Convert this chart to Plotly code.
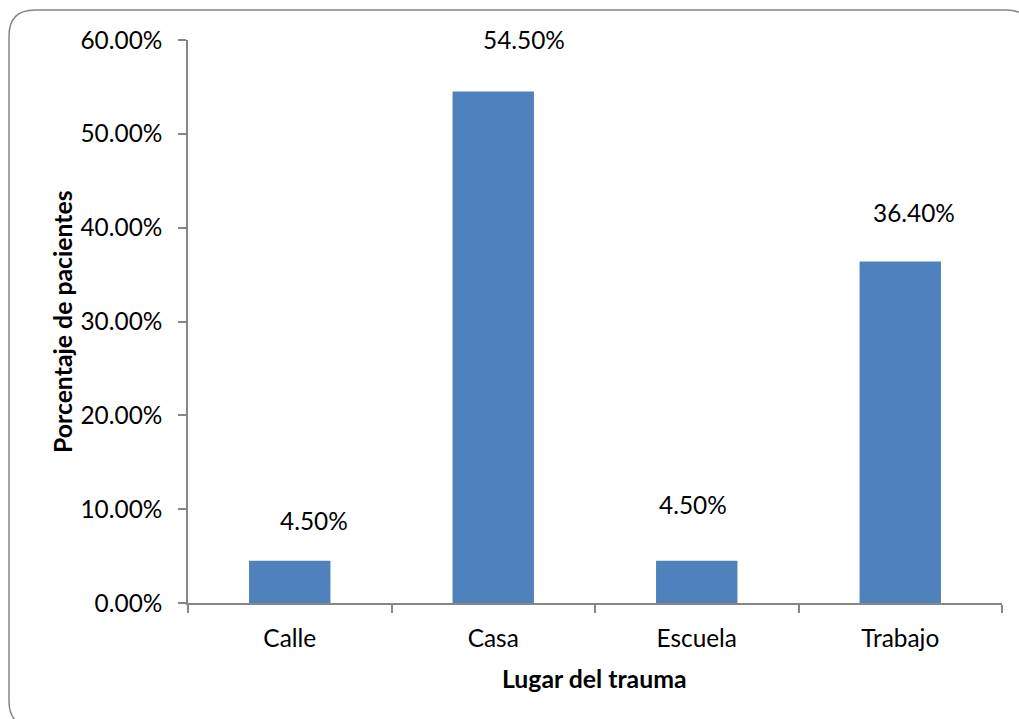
import plotly.graph_objects as go

categories = ["Calle", "Casa", "Escuela", "Trabajo"]
values = [0.045, 0.545, 0.045, 0.364]
label_texts = ["4.50%", "54.50%", "4.50%", "36.40%"]
# manual label offsets (pixels) as placed in the original chart
label_dx = [24, 31, -4, 14]
label_dy = [40, 52, 56, 49]

W, H = 1019, 719
L, R, T, B = 188, 17, 40, 116
PW, PH = W - L - R, H - T - B

def px(x):
    return (x - L) / PW

def py(y):
    return (H - B - y) / PH

FONT = "Lato"
GRAY = "#868686"
FS = 24.4

fig = go.Figure()
fig.add_trace(go.Bar(
    x=categories, y=values, marker=dict(color="#4F81BD", line=dict(width=0)),
    width=0.4, showlegend=False, hoverinfo="x+y",
))

for c, v, t, dx, dy in zip(categories, values, label_texts, label_dx, label_dy):
    fig.add_annotation(x=c, y=v, text=t, showarrow=False, xshift=dx, yshift=dy,
                       yanchor="middle", xanchor="center",
                       font=dict(family=FONT, size=FS, color="#000"))

# axis titles
fig.add_annotation(xref="paper", yref="paper", x=px(594), y=py(678), text="<b>Lugar del trauma</b>",
                   showarrow=False, xanchor="center", yanchor="middle",
                   font=dict(family=FONT, size=24.8, color="#000"))
fig.add_annotation(xref="paper", yref="paper", x=px(62), y=py(322), text="<b>Porcentaje de pacientes</b>",
                   showarrow=False, xanchor="center", yanchor="middle", textangle=-90,
                   font=dict(family=FONT, size=24.8, color="#000"))

# rounded chart border
x0, y0, x1, y1, r = 9, 10, 1032, 727, 26
path = (f"M {px(x0)},{py(y0 + r)} Q {px(x0)},{py(y0)} {px(x0 + r)},{py(y0)} "
        f"L {px(x1 - r)},{py(y0)} Q {px(x1)},{py(y0)} {px(x1)},{py(y0 + r)} "
        f"L {px(x1)},{py(y1 - r)} Q {px(x1)},{py(y1)} {px(x1 - r)},{py(y1)} "
        f"L {px(x0 + r)},{py(y1)} Q {px(x0)},{py(y1)} {px(x0)},{py(y1 - r)} Z")
fig.add_shape(type="path", xref="paper", yref="paper", path=path,
              line=dict(color=GRAY, width=1.5), layer="below")

fig.update_layout(
    width=W, height=H,
    margin=dict(l=L, r=R, t=T, b=B, autoexpand=False),
    paper_bgcolor="white", plot_bgcolor="white",
    bargap=0.6,
    font=dict(family=FONT, size=FS, color="#000"),
    xaxis=dict(
        type="category", range=[-0.5, 3.5], showline=True, linecolor=GRAY, linewidth=1.5,
        ticks="outside", tickson="boundaries", ticklen=8, tickcolor=GRAY, tickwidth=1.5,
        showgrid=False, zeroline=False, ticklabelstandoff=13,
        tickfont=dict(family=FONT, size=FS, color="#000"),
    ),
    yaxis=dict(
        range=[0, 0.6], dtick=0.1, tickformat=".2%", showline=True, linecolor=GRAY, linewidth=1.5,
        ticks="outside", ticklen=8, tickcolor=GRAY, tickwidth=1.5,
        showgrid=False, zeroline=False, ticklabelstandoff=11,
        tickfont=dict(family=FONT, size=FS, color="#000"),
    ),
)

fig.write_html("out.html")
